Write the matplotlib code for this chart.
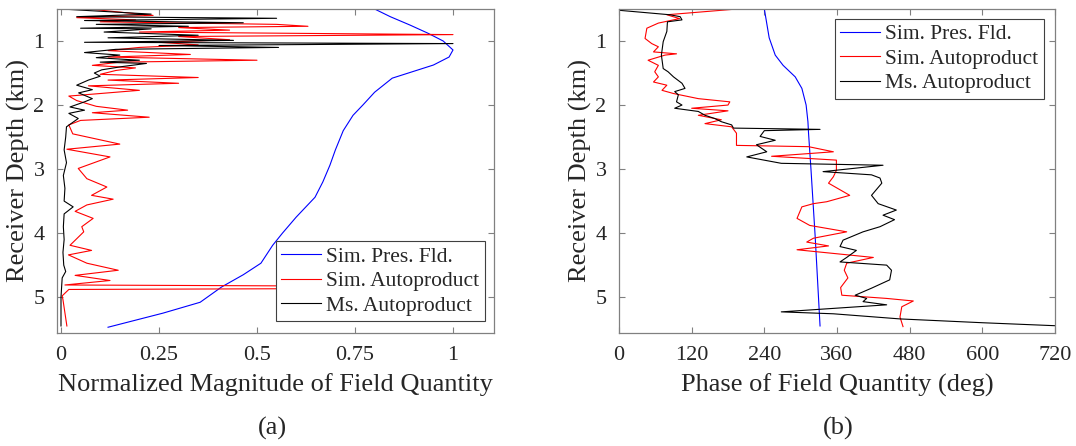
import matplotlib
matplotlib.use("Agg")
import matplotlib.pyplot as plt
import numpy as np

# ---------------- data ----------------
# Panel (a): normalized magnitude vs receiver depth (km)
blue_a_depth = [0.50, 0.62, 0.75, 0.875, 1.00, 1.14, 1.25, 1.375, 1.58, 1.80, 2.00, 2.16, 2.40, 2.70,
                2.94, 3.20, 3.44, 3.75, 4.00, 4.19, 4.47, 4.65, 4.84, 5.08, 5.25, 5.47]
blue_a_val = [0.80, 0.84, 0.89, 0.935, 0.975, 1.00, 0.99, 0.95, 0.845, 0.80, 0.77, 0.745, 0.72, 0.70,
              0.686, 0.668, 0.648, 0.60, 0.565, 0.54, 0.51, 0.465, 0.41, 0.355, 0.26, 0.12]

red_a_depth = [0.50, 0.60, 0.635, 0.67, 0.70, 0.74, 0.77, 0.79, 0.83, 0.86, 0.90, 0.93, 0.98, 1.02,
               1.06, 1.10, 1.15, 1.21, 1.25, 1.30, 1.33, 1.38, 1.42, 1.46, 1.52, 1.57, 1.61, 1.66,
               1.70, 1.77, 1.86, 1.93, 2.02, 2.08, 2.12, 2.19, 2.24, 2.31, 2.45, 2.61, 2.69, 2.81,
               2.99, 3.15, 3.28, 3.41, 3.47, 3.56, 3.66, 3.77, 3.90, 3.98, 4.19, 4.27, 4.34, 4.47,
               4.58, 4.66, 4.74, 4.81, 4.835, 4.86, 4.88, 4.98, 5.04, 5.45]
red_a_val = [0.07, 0.235, 0.04, 0.19, 0.10, 0.55, 0.63, 0.30, 0.43, 0.20, 1.00, 0.30, 0.43, 0.25,
             0.35, 0.20, 0.12, 0.33, 0.12, 0.50, 0.15, 0.08, 0.19, 0.14, 0.10, 0.35, 0.12, 0.30,
             0.07, 0.20, 0.02, 0.04, 0.09, 0.17, 0.08, 0.225, 0.05, 0.02, 0.03, 0.15, 0.015, 0.125,
             0.044, 0.066, 0.117, 0.078, 0.133, 0.066, 0.036, 0.082, 0.053, 0.058, 0.023, 0.078,
             0.019, 0.066, 0.146, 0.036, 0.125, 0.010, 1.00, 1.00, 0.02, 0.003, 0.005, 0.015]

black_a_depth = [0.50, 0.58, 0.62, 0.645, 0.68, 0.715, 0.74, 0.77, 0.80, 0.81, 0.86, 0.91, 0.95, 0.99,
                 1.02, 1.04, 1.07, 1.10, 1.13, 1.18, 1.22, 1.26, 1.30, 1.33, 1.35, 1.40, 1.45, 1.50,
                 1.55, 1.61, 1.69, 1.76, 1.81, 1.90, 1.95, 2.03, 2.08, 2.13, 2.21, 2.34, 2.50, 2.70,
                 2.90, 3.10, 3.30, 3.50, 3.59, 3.70, 3.90, 4.10, 4.30, 4.50, 4.60, 4.70, 5.00, 5.45]
black_a_val = [0.00, 0.23, 0.04, 0.55, 0.06, 0.465, 0.09, 0.325, 0.05, 0.23, 0.11, 0.35, 0.12, 0.44,
               0.06, 1.00, 0.25, 0.555, 0.14, 0.06, 0.15, 0.09, 0.20, 0.10, 0.218, 0.155, 0.104, 0.085,
               0.10, 0.07, 0.04, 0.08, 0.045, 0.08, 0.06, 0.023, 0.06, 0.02, 0.044, 0.014, 0.012, 0.008,
               0.014, 0.006, 0.010, 0.008, 0.031, 0.008, 0.006, 0.008, 0.005, 0.007, 0.012, 0.003, 0.0, 0.0]

# Panel (b): phase (deg) vs receiver depth (km)
blue_b_depth = [0.50, 0.95, 1.22, 1.38, 1.56, 1.74, 2.00, 2.26, 2.44, 3.00, 4.06, 5.45]
blue_b_val = [240, 248, 258, 271, 291, 302, 309, 312, 313, 317, 324, 332]

red_b_depth = [0.50, 0.59, 0.65, 0.72, 0.80, 0.96, 1.04, 1.09, 1.17, 1.20, 1.22, 1.30, 1.38, 1.48,
               1.56, 1.64, 1.69, 1.77, 1.82, 1.90, 1.95, 2.00, 2.05, 2.09, 2.16, 2.23, 2.29, 2.34,
               2.44, 2.63, 2.65, 2.73, 2.80, 2.86, 2.91, 3.02, 3.12, 3.22, 3.41, 3.51, 3.54, 3.59,
               3.77, 3.88, 3.98, 4.08, 4.14, 4.20, 4.26, 4.38, 4.47, 4.58, 4.70, 4.85, 4.97, 5.02,
               5.06, 5.15, 5.31, 5.46]
red_b_val = [195, 79, 100, 65, 46, 43, 54, 65, 57, 95, 76, 48, 65, 59,
             65, 57, 79, 71, 90, 131, 183, 180, 120, 180, 131, 169, 142, 186,
             194, 194, 313, 354, 252, 359, 359, 359, 354, 346, 381, 343, 321, 302,
             294, 315, 376, 321, 310, 346, 294, 420, 376, 372, 378, 366, 368, 442,
             486, 467, 464, 469]

black_b_depth = [0.52, 0.59, 0.62, 0.67, 0.70, 0.85, 1.01, 1.22, 1.43, 1.48, 1.56, 1.66, 1.74, 1.79,
                 1.84, 1.95, 2.00, 2.05, 2.10, 2.16, 2.21, 2.26, 2.31, 2.36, 2.38, 2.40, 2.49, 2.55,
                 2.62, 2.73, 2.81, 2.91, 2.94, 3.04, 3.09, 3.14, 3.22, 3.41, 3.54, 3.64, 3.72, 3.79,
                 3.90, 3.98, 4.11, 4.21, 4.27, 4.38, 4.45, 4.50, 4.58, 4.73, 4.86, 4.97, 5.02, 5.07,
                 5.12, 5.23, 5.26, 5.34, 5.40, 5.45]
black_b_val = [0, 84, 101, 104, 80, 79, 73, 70, 73, 81, 90, 104, 109, 92,
               98, 95, 104, 92, 131, 142, 158, 169, 186, 189, 332, 240, 233, 258,
               227, 244, 211, 268, 436, 337, 417, 431, 434, 417, 428, 458, 436, 455,
               431, 403, 370, 365, 392, 376, 365, 442, 450, 447, 417, 390, 409, 403,
               442, 268, 354, 464, 601, 730]

series_names = ["Sim. Pres. Fld.", "Sim. Autoproduct", "Ms. Autoproduct"]
colors = ["#0000ff", "#ff0000", "#000000"]

a_xticks = [0, 0.25, 0.5, 0.75, 1]
a_xticklabels = ["0", "0.25", "0.5", "0.75", "1"]
b_xticks = [0, 120, 240, 360, 480, 600, 720]
y_ticks = [1, 2, 3, 4, 5]

# ---------------- style ----------------
plt.rcParams["font.family"] = ["Liberation Serif", "DejaVu Serif"]
W, H = 1076, 446
fig = plt.figure(figsize=(W / 100, H / 100), dpi=100)

spine_col = "#808080"
text_col = "#262626"
FS_TICK = 16
FS_LAB = 19
FS_LEG = 15.5


def px_axes(x0, x1, ytop, ybot):
    return fig.add_axes([x0 / W, 1 - ybot / H, (x1 - x0) / W, (ybot - ytop) / H])


def style(ax):
    for s in ax.spines.values():
        s.set_color(spine_col)
        s.set_linewidth(0.9)
    ax.tick_params(direction="in", length=4, width=0.8, color=spine_col,
                   top=True, right=True, labelsize=FS_TICK, labelcolor=text_col, pad=9)
    ax.set_ylim(5.56, 0.5)
    ax.set_yticks(y_ticks)


axa = px_axes(57, 494, 9, 333)
axb = px_axes(619, 1055, 9, 333)

lw = 0.8
axa.plot(blue_a_val, blue_a_depth, color=colors[0], lw=lw, label=series_names[0])
axa.plot(red_a_val, red_a_depth, color=colors[1], lw=lw, label=series_names[1])
axa.plot(black_a_val, black_a_depth, color=colors[2], lw=lw, label=series_names[2])
style(axa)
axa.set_xlim(-0.0102, 1.1046)
axa.set_xticks(a_xticks)
axa.set_xticklabels(a_xticklabels)

axb.plot(blue_b_val, blue_b_depth, color=colors[0], lw=lw, label=series_names[0])
axb.plot(red_b_val, red_b_depth, color=colors[1], lw=lw, label=series_names[1])
axb.plot(black_b_val, black_b_depth, color=colors[2], lw=lw, label=series_names[2])
style(axb)
axb.set_xlim(0, 720)
axb.set_xticks(b_xticks)

for ax, xl in ((axa, "Normalized Magnitude of Field Quantity"), (axb, "Phase of Field Quantity (deg)")):
    ax.set_xlabel(xl, fontsize=FS_LAB, color=text_col, va="center")
    ax.set_ylabel("Receiver Depth (km)", fontsize=FS_LAB, color=text_col, va="center")
    ax.xaxis.set_label_coords(0.5, (333 - 385) / 324)
    ax.yaxis.set_label_coords(-39 / 437, 0.5)

leg_kw = dict(fontsize=FS_LEG, frameon=True, fancybox=False, framealpha=1,
              edgecolor="#404040", borderpad=0.25, labelspacing=0.2, handlelength=1.85,
              handletextpad=0.25, borderaxespad=0)
la = axa.legend(loc="lower right", bbox_to_anchor=((485 - 57) / 437, (333 - 321) / 324), **leg_kw)
lb = axb.legend(loc="upper right", bbox_to_anchor=((1044 - 619) / 436, (333 - 19) / 324), **leg_kw)
for lg in (la, lb):
    lg.get_frame().set_linewidth(0.8)
    for t in lg.get_texts():
        t.set_color(text_col)

fig.text(272 / W, 1 - 428 / H, "(a)", fontsize=FS_LAB, ha="center", va="center", color=text_col)
fig.text(838 / W, 1 - 428 / H, "(b)", fontsize=FS_LAB, ha="center", va="center", color=text_col)

fig.savefig("out.png", dpi=100)
